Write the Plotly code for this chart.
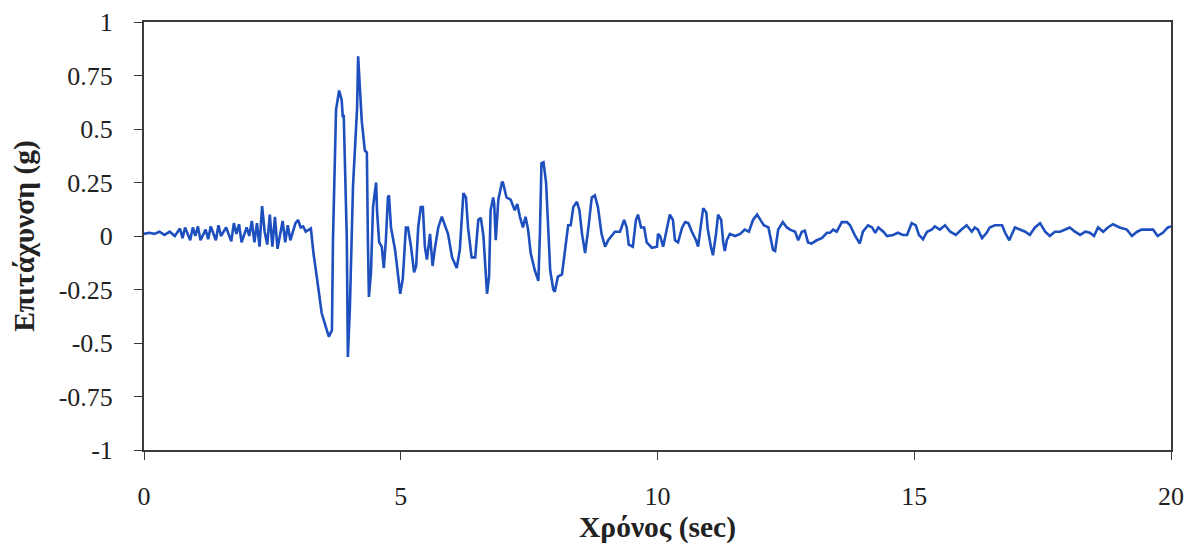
import plotly.graph_objects as go

# Time (sec) and acceleration (g)
time_s = [
    0.0, 0.1, 0.2, 0.3, 0.4, 0.5, 0.6, 0.7, 0.75, 0.8, 0.9, 0.95, 1.0, 1.05, 1.1, 1.2, 1.25, 1.3,
    1.4, 1.45, 1.5, 1.6, 1.7, 1.75, 1.8, 1.85, 1.9, 2.0, 2.05, 2.1, 2.15, 2.2, 2.25, 2.3, 2.35,
    2.4, 2.45, 2.5, 2.55, 2.6, 2.7, 2.75, 2.8, 2.85, 2.9, 2.95, 3.0, 3.05, 3.1, 3.15, 3.25,
    3.3, 3.37, 3.46, 3.56, 3.6, 3.66, 3.68, 3.74, 3.8, 3.85, 3.87, 3.89, 3.95, 3.97, 4.01,
    4.07, 4.15, 4.17, 4.21, 4.24, 4.3, 4.34, 4.36, 4.38, 4.42, 4.46, 4.52, 4.54, 4.58, 4.63,
    4.67, 4.71, 4.75, 4.77, 4.81, 4.89, 4.99, 5.04, 5.1, 5.14, 5.2, 5.26, 5.3, 5.34, 5.39,
    5.43, 5.47, 5.51, 5.57, 5.62, 5.67, 5.73, 5.8, 5.92, 6.0, 6.09, 6.15, 6.22, 6.27, 6.31,
    6.38, 6.45, 6.51, 6.56, 6.61, 6.68, 6.72, 6.75, 6.8, 6.82, 6.85, 6.9, 6.97, 6.99, 7.06,
    7.14, 7.22, 7.27, 7.32, 7.38, 7.43, 7.48, 7.53, 7.61, 7.68, 7.71, 7.74, 7.78, 7.83, 7.87,
    7.91, 7.97, 8.0, 8.06, 8.14, 8.2, 8.26, 8.31, 8.36, 8.43, 8.48, 8.53, 8.59, 8.65, 8.72,
    8.78, 8.84, 8.91, 8.98, 9.04, 9.17, 9.27, 9.35, 9.4, 9.44, 9.52, 9.58, 9.62, 9.68, 9.74,
    9.79, 9.89, 9.99, 10.01, 10.05, 10.11, 10.18, 10.24, 10.3, 10.34, 10.4, 10.48, 10.54,
    10.6, 10.67, 10.75, 10.79, 10.85, 10.89, 10.95, 10.98, 11.04, 11.08, 11.14, 11.18, 11.24,
    11.28, 11.31, 11.35, 11.41, 11.51, 11.61, 11.7, 11.78, 11.86, 11.94, 12.0, 12.07, 12.16,
    12.25, 12.29, 12.35, 12.44, 12.52, 12.58, 12.68, 12.74, 12.81, 12.87, 12.93, 13.0, 13.1,
    13.2, 13.3, 13.36, 13.42, 13.49, 13.59, 13.69, 13.75, 13.85, 13.94, 14.0, 14.1, 14.18,
    14.24, 14.3, 14.4, 14.47, 14.59, 14.68, 14.78, 14.86, 14.95, 15.03, 15.09, 15.17, 15.25,
    15.34, 15.4, 15.5, 15.6, 15.7, 15.81, 15.92, 16.02, 16.12, 16.18, 16.24, 16.32, 16.41,
    16.47, 16.57, 16.71, 16.77, 16.85, 16.96, 17.06, 17.16, 17.25, 17.35, 17.45, 17.55,
    17.64, 17.74, 17.84, 17.94, 18.03, 18.13, 18.23, 18.33, 18.42, 18.5, 18.58, 18.68,
    18.77, 18.87, 19.0, 19.14, 19.24, 19.34, 19.43, 19.55, 19.65, 19.74, 19.84, 19.94, 20.0,
]
accel_g = [
    0.01, 0.015, 0.01, 0.02, 0.005, 0.02, 0.0, 0.035, -0.01, 0.04, -0.02, 0.04, 0.0, 0.045, -0.02, 0.03, -0.015, 0.045,
    -0.02, 0.05, 0.0, 0.04, -0.025, 0.06, 0.01, 0.055, -0.03, 0.04, 0.0, 0.07, -0.03, 0.06, -0.05, 0.14, 0.02,
    -0.04, 0.1, -0.05, 0.09, -0.06, 0.07, -0.03, 0.05, -0.02, 0.02, 0.06, 0.075, 0.04, 0.045, 0.02, 0.035,
    -0.08, -0.2, -0.36, -0.44, -0.47, -0.44, -0.02, 0.59, 0.68, 0.635, 0.56, 0.56, -0.02, -0.565, -0.33,
    0.23, 0.6, 0.84, 0.68, 0.54, 0.4, 0.39, -0.02, -0.285, -0.17, 0.135, 0.25, 0.11, -0.03, -0.05,
    -0.15, -0.02, 0.18, 0.19, 0.04, -0.065, -0.27, -0.2, 0.04, 0.04, -0.05, -0.17, -0.14, 0.04, 0.135,
    0.135, -0.05, -0.11, 0.01, -0.14, -0.05, 0.04, 0.09, 0.01, -0.1, -0.15, -0.065, 0.2, 0.18, 0.04,
    -0.1, -0.1, 0.075, 0.085, 0.0, -0.27, -0.19, 0.12, 0.18, 0.15, -0.02, 0.17, 0.25, 0.25, 0.18,
    0.17, 0.12, 0.15, 0.09, 0.04, 0.09, 0.03, -0.08, -0.16, -0.21, 0.01, 0.34, 0.345, 0.25, 0.01,
    -0.16, -0.25, -0.26, -0.19, -0.18, -0.065, 0.05, 0.05, 0.135, 0.16, 0.12, 0.01, -0.08, 0.03, 0.18,
    0.19, 0.135, 0.01, -0.05, -0.02, 0.02, 0.02, 0.075, 0.04, -0.04, -0.05, 0.075, 0.1, 0.04, 0.04,
    -0.03, -0.055, -0.05, 0.01, 0.0, -0.05, 0.03, 0.1, 0.075, -0.02, -0.03, 0.04, 0.065,
    0.06, 0.02, -0.02, -0.05, 0.075, 0.13, 0.11, 0.03, -0.05, -0.09, 0.01, 0.1, 0.075,
    -0.03, -0.07, -0.02, 0.01, 0.0, 0.01, 0.03, 0.02, 0.075, 0.1, 0.075, 0.05, 0.04,
    -0.065, -0.07, 0.03, 0.065, 0.04, 0.03, 0.02, -0.02, 0.02, 0.025, -0.03, -0.035, -0.02,
    -0.01, 0.015, 0.015, 0.03, 0.02, 0.065, 0.065, 0.05, 0.0, -0.035, 0.02, 0.05, 0.04,
    0.015, 0.04, 0.02, 0.0, 0.005, 0.015, 0.005, 0.005, 0.06, 0.05, 0.005, -0.015, 0.02,
    0.03, 0.045, 0.03, 0.05, 0.02, 0.005, 0.03, 0.05, 0.02, 0.04, 0.03, -0.01, 0.015,
    0.04, 0.05, 0.05, 0.015, -0.02, 0.04, 0.03, 0.02, 0.005, 0.04, 0.06, 0.02,
    0.0, 0.02, 0.02, 0.03, 0.04, 0.02, 0.005, 0.02, 0.015, 0.0, 0.04, 0.02,
    0.04, 0.055, 0.04, 0.03, 0.0, 0.02, 0.03, 0.03, 0.03, 0.0, 0.015, 0.04, 0.045,
]

x_ticks = [0, 5, 10, 15, 20]
y_ticks = [-1, -0.75, -0.5, -0.25, 0, 0.25, 0.5, 0.75, 1]
y_labels = ["-1", "-0.75", "-0.5", "-0.25", "0", "0.25", "0.5", "0.75", "1"]

fig = go.Figure()
fig.add_trace(go.Scatter(
    x=time_s, y=accel_g, mode="lines",
    line=dict(color="#1d4fbf", width=2.6),
    showlegend=False,
))

axis_font = dict(family="Liberation Serif", size=26, color="#222222")
title_font = dict(family="Liberation Serif", size=29.5, color="#222222")

fig.update_layout(
    width=1186, height=541,
    margin=dict(l=136, r=23, t=14, b=99),
    paper_bgcolor="white", plot_bgcolor="white",
    xaxis=dict(
        range=[0, 20], tickvals=x_ticks, ticktext=[str(v) for v in x_ticks],
        automargin=False,
        showline=True, linecolor="#3a3a3a", linewidth=2, mirror=True,
        ticks="outside", ticklen=8, tickcolor="#3a3a3a", tickwidth=1,
        showgrid=False, zeroline=False, tickfont=axis_font,
        ticklabelstandoff=14,
        title=dict(text="<b>Χρόνος (sec)</b>", font=title_font, standoff=5),
    ),
    yaxis=dict(
        range=[-1, 1], tickvals=y_ticks, ticktext=y_labels,
        automargin=False,
        showline=True, linecolor="#3a3a3a", linewidth=2, mirror=True,
        ticks="outside", ticklen=8, tickcolor="#3a3a3a", tickwidth=1,
        showgrid=False, zeroline=False, tickfont=axis_font,
        ticklabelstandoff=16,
        title=dict(text="<b>Επιτάχυνση (g)</b>", font=title_font, standoff=16),
    ),
)

fig.write_html("out.html")
